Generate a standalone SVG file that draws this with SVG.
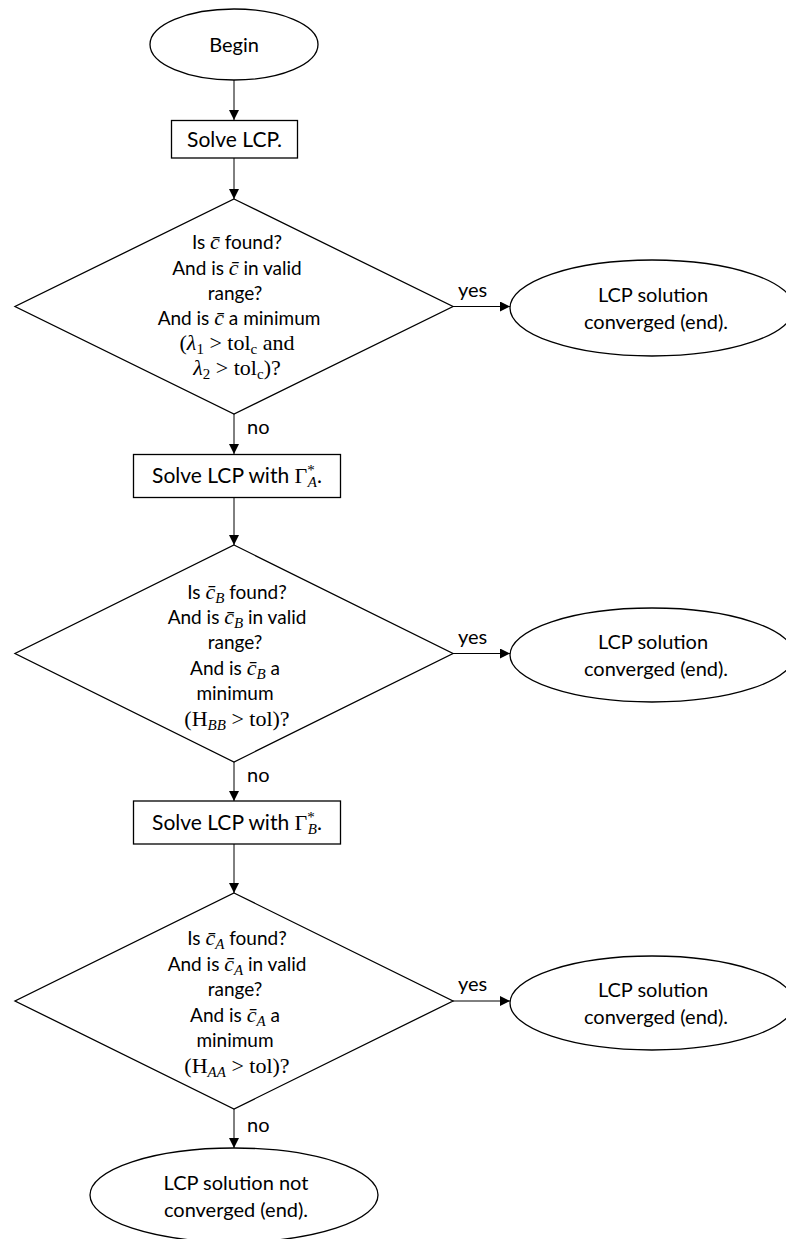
<svg xmlns="http://www.w3.org/2000/svg" width="786" height="1239" viewBox="0 0 786 1239">
<style>
.shape{fill:#fff;stroke:#000;stroke-width:1.3}
.t{font-family:Lato,"Noto Sans",sans-serif;font-size:19px;fill:#000;text-anchor:middle}
.tb{font-family:Lato,"Noto Sans",sans-serif;font-size:20px;fill:#000;text-anchor:middle}
.bx{font-size:21px}
.m{font-family:"Liberation Serif",serif;font-size:22px}
.mi{font-family:"Liberation Serif",serif;font-style:italic;font-size:22px}
.s{font-size:15px}
.lbl{font-family:Lato,"Noto Sans",sans-serif;font-size:20px;fill:#000}
.c{stroke:#000;stroke-width:1;fill:none;marker-end:url(#ah)}
</style>
<defs>
<marker id="ah" viewBox="0 0 10 10" refX="10" refY="5" markerWidth="10" markerHeight="10" markerUnits="userSpaceOnUse" orient="auto">
<path d="M0,0 L10,5 L0,10 z" fill="#000"/>
</marker>
</defs>
<g id="connectors">
<line class="c" x1="234" y1="80" x2="234" y2="120"/>
<line class="c" x1="234" y1="158" x2="234" y2="199"/>
<line class="c" x1="453" y1="306.5" x2="510" y2="306.5"/>
<line class="c" x1="234" y1="414" x2="234" y2="454"/>
<line class="c" x1="234" y1="497" x2="234" y2="545"/>
<line class="c" x1="453" y1="653.5" x2="510" y2="653.5"/>
<line class="c" x1="234" y1="762" x2="234" y2="801"/>
<line class="c" x1="234" y1="844" x2="234" y2="893"/>
<line class="c" x1="453" y1="1001" x2="510" y2="1001"/>
<line class="c" x1="234" y1="1109" x2="234" y2="1148"/>
<text class="lbl" x="458" y="297">yes</text>
<text class="lbl" x="247" y="434">no</text>
<text class="lbl" x="458" y="644">yes</text>
<text class="lbl" x="247" y="782">no</text>
<text class="lbl" x="458" y="991">yes</text>
<text class="lbl" x="247" y="1132">no</text>
</g>
<g id="begin">
<ellipse class="shape" cx="234" cy="44.5" rx="84" ry="35.5"/>
<text class="tb" x="234" y="51.5">Begin</text>
</g>
<g id="solve1">
<rect class="shape" x="171.5" y="120.5" width="126" height="37.5"/>
<text class="tb bx" x="234.5" y="146.5">Solve LCP.</text>
</g>
<g id="dec1">
<polygon class="shape" points="234,199 453,306.5 234,414 15,306.5"/>
<text class="t" x="237" y="249">Is <tspan class="mi">c̄</tspan> found?</text>
<text class="t" x="237" y="274.5">And is <tspan class="mi">c̄</tspan> in valid</text>
<text class="t" x="235" y="300">range?</text>
<text class="t" x="239" y="325">And is <tspan class="mi">c̄</tspan> a minimum</text>
<text class="t" x="237" y="350"><tspan class="m">(</tspan><tspan class="mi">λ</tspan><tspan class="m s" dy="4">1</tspan><tspan class="m" dy="-4"> &gt; tol</tspan><tspan class="m s" dy="4">c</tspan><tspan class="m" dy="-4"> and</tspan></text>
<text class="t" x="237" y="375"><tspan class="mi">λ</tspan><tspan class="m s" dy="4">2</tspan><tspan class="m" dy="-4"> &gt; tol</tspan><tspan class="m s" dy="4">c</tspan><tspan class="m" dy="-4">)?</tspan></text>
</g>
<g id="end1">
<ellipse class="shape" cx="652" cy="308" rx="142" ry="48"/>
<text class="tb" x="653" y="302">LCP solution</text>
<text class="tb" x="656" y="329">converged (end).</text>
</g>
<g id="solve2">
<rect class="shape" x="133.5" y="454.5" width="207" height="43"/>
<text class="tb bx" x="237" y="483">Solve LCP with <tspan class="m">Γ</tspan><tspan class="m s" dy="-8">*</tspan><tspan class="mi s" dx="-7" dy="12">A</tspan><tspan dy="-4">.</tspan></text>
</g>
<g id="dec2">
<polygon class="shape" points="234,545 453,653.5 234,762 15,653.5"/>
<text class="t" x="237" y="598.5">Is <tspan class="mi">c̄</tspan><tspan class="mi s" dy="4">B</tspan><tspan dy="-4"> found?</tspan></text>
<text class="t" x="237" y="624">And is <tspan class="mi">c̄</tspan><tspan class="mi s" dy="4">B</tspan><tspan dy="-4"> in valid</tspan></text>
<text class="t" x="235" y="649">range?</text>
<text class="t" x="235" y="674.5">And is <tspan class="mi">c̄</tspan><tspan class="mi s" dy="4">B</tspan><tspan dy="-4"> a</tspan></text>
<text class="t" x="235" y="700">minimum</text>
<text class="t" x="237" y="725.5"><tspan class="m">(H</tspan><tspan class="mi s" dy="4">BB</tspan><tspan class="m" dy="-4"> &gt; tol)?</tspan></text>
</g>
<g id="end2">
<ellipse class="shape" cx="652" cy="655" rx="142" ry="47"/>
<text class="tb" x="653" y="649">LCP solution</text>
<text class="tb" x="656" y="676">converged (end).</text>
</g>
<g id="solve3">
<rect class="shape" x="133.5" y="801" width="207" height="43"/>
<text class="tb bx" x="237" y="829.5">Solve LCP with <tspan class="m">Γ</tspan><tspan class="m s" dy="-8">*</tspan><tspan class="mi s" dx="-7" dy="12">B</tspan><tspan dy="-4">.</tspan></text>
</g>
<g id="dec3">
<polygon class="shape" points="234,893 453,1001 234,1109 15,1001"/>
<text class="t" x="237" y="945">Is <tspan class="mi">c̄</tspan><tspan class="mi s" dy="4">A</tspan><tspan dy="-4"> found?</tspan></text>
<text class="t" x="237" y="970.5">And is <tspan class="mi">c̄</tspan><tspan class="mi s" dy="4">A</tspan><tspan dy="-4"> in valid</tspan></text>
<text class="t" x="235" y="996">range?</text>
<text class="t" x="235" y="1021.5">And is <tspan class="mi">c̄</tspan><tspan class="mi s" dy="4">A</tspan><tspan dy="-4"> a</tspan></text>
<text class="t" x="235" y="1047">minimum</text>
<text class="t" x="237" y="1072.5"><tspan class="m">(H</tspan><tspan class="mi s" dy="4">AA</tspan><tspan class="m" dy="-4"> &gt; tol)?</tspan></text>
</g>
<g id="end3">
<ellipse class="shape" cx="652" cy="1003" rx="142" ry="47"/>
<text class="tb" x="653" y="997">LCP solution</text>
<text class="tb" x="656" y="1024">converged (end).</text>
</g>
<g id="end4">
<ellipse class="shape" cx="234" cy="1195" rx="144" ry="47"/>
<text class="tb" x="236" y="1190">LCP solution not</text>
<text class="tb" x="236" y="1217">converged (end).</text>
</g>
</svg>
